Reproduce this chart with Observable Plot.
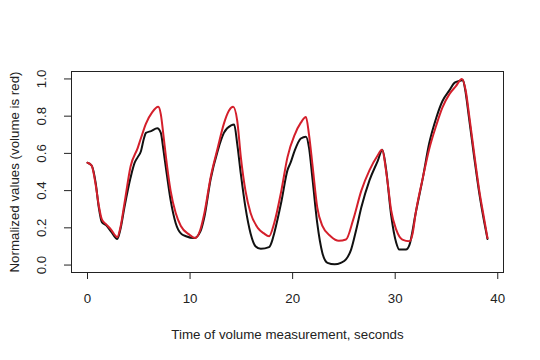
<!DOCTYPE html>
<html>
<head>
<meta charset="utf-8">
<script src="https://cdn.jsdelivr.net/npm/d3@7"></script>
<script src="https://cdn.jsdelivr.net/npm/@observablehq/plot@0.6"></script>
<style>
  html, body { margin: 0; padding: 0; background: #fff; }
  svg { display: block; }
</style>
</head>
<body>
<div id="chart"></div>
<script>
// Black series (other signal)
const timeBlack = [0,0.4,0.8,1.1,1.4,1.8,2.3,2.9,3.2,3.6,4.2,4.6,4.9,5.2,5.5,5.7,6.2,6.8,7.15,7.4,7.65,8.1,8.6,9.1,9.6,10.4,11.0,11.4,12.0,12.7,13.3,14.0,14.3,14.6,14.95,15.4,15.9,16.4,16.9,17.7,18.0,18.2,18.9,19.5,19.8,20.2,20.8,21.3,21.6,21.95,22.4,22.9,23.4,24.1,24.7,25.2,25.7,26.2,26.7,27.5,28.3,28.75,29.1,29.6,30.1,30.4,31.05,31.4,32.0,32.7,33.3,34.0,34.6,35.3,35.8,36.3,36.6,36.8,37.2,37.7,38.2,38.7,39.0];
const valueBlack = [0.55,0.535,0.44,0.31,0.23,0.215,0.18,0.14,0.19,0.31,0.47,0.55,0.58,0.61,0.68,0.71,0.72,0.735,0.71,0.62,0.52,0.35,0.225,0.17,0.155,0.145,0.18,0.26,0.46,0.615,0.71,0.75,0.755,0.65,0.49,0.31,0.17,0.10,0.087,0.096,0.13,0.17,0.34,0.51,0.55,0.615,0.68,0.69,0.63,0.456,0.225,0.065,0.012,0.004,0.012,0.03,0.083,0.19,0.31,0.456,0.56,0.62,0.52,0.27,0.12,0.083,0.083,0.11,0.28,0.47,0.65,0.79,0.88,0.94,0.98,0.99,0.995,0.95,0.79,0.58,0.385,0.225,0.14];
// Red series (volume)
const timeRed = [0,0.4,0.8,1.1,1.4,1.8,2.3,2.9,3.2,3.6,4.2,4.9,5.2,5.7,6.3,6.9,7.15,7.4,7.65,8.1,8.6,9.1,9.9,10.5,11.0,11.4,12.0,12.7,13.3,13.8,14.2,14.6,14.95,15.4,15.9,16.6,17.2,17.7,18.2,18.9,19.5,20.2,20.8,21.3,21.6,21.95,22.4,22.9,23.7,24.5,25.2,25.9,26.7,27.5,28.3,28.7,29.2,29.6,30.1,30.7,31.4,31.7,32.0,32.7,33.3,34.0,34.6,35.3,35.9,36.5,36.9,37.2,37.7,38.2,38.7,39.0];
const valueRed = [0.55,0.535,0.43,0.32,0.245,0.22,0.19,0.15,0.2,0.33,0.53,0.63,0.68,0.76,0.82,0.85,0.81,0.70,0.58,0.40,0.28,0.21,0.165,0.145,0.19,0.28,0.47,0.63,0.76,0.83,0.85,0.775,0.58,0.40,0.28,0.20,0.17,0.155,0.225,0.40,0.58,0.70,0.765,0.795,0.70,0.53,0.31,0.21,0.155,0.13,0.137,0.243,0.40,0.51,0.59,0.62,0.47,0.296,0.19,0.137,0.128,0.17,0.28,0.47,0.62,0.75,0.846,0.92,0.96,1.0,0.93,0.81,0.60,0.40,0.24,0.145];

const xTicks = [0, 10, 20, 30, 40];
const yTicks = [0, 0.2, 0.4, 0.6, 0.8, 1.0];

const black = timeBlack.map((t, i) => ({t, v: valueBlack[i]}));
const red = timeRed.map((t, i) => ({t, v: valueRed[i]}));

const chart = Plot.plot({
  width: 540,
  height: 360,
  marginLeft: 71,
  marginRight: 37,
  marginTop: 71,
  marginBottom: 88,
  style: {fontFamily: "Liberation Sans, Arial, sans-serif", fontSize: "13px", color: "#222", background: "#fff"},
  x: {domain: [-1.56, 40.56]},
  y: {domain: [-0.04, 1.04]},
  marks: [
    Plot.frame({stroke: "#222", strokeWidth: 1}),
    Plot.axisX({ticks: xTicks, tickSize: 7, tickPadding: 14, tickFormat: d3.format("d"),
      fontSize: 13.3, label: "Time of volume measurement, seconds", labelAnchor: "center",
      labelArrow: "none", labelOffset: 66, stroke: "#222"}),
    Plot.axisY({ticks: yTicks, tickSize: 7, tickPadding: 19, tickRotate: -90, tickFormat: d3.format(".1f"),
      fontSize: 13.3, label: "Normalized values (volume is red)", labelAnchor: "center",
      labelArrow: "none", labelOffset: 62, stroke: "#222"}),
    Plot.line(black, {x: "t", y: "v", stroke: "#111", strokeWidth: 2, curve: "monotone-x"}),
    Plot.line(red, {x: "t", y: "v", stroke: "#d41f2b", strokeWidth: 2, curve: "monotone-x"})
  ]
});
document.getElementById("chart").appendChild(chart);
</script>
</body>
</html>
